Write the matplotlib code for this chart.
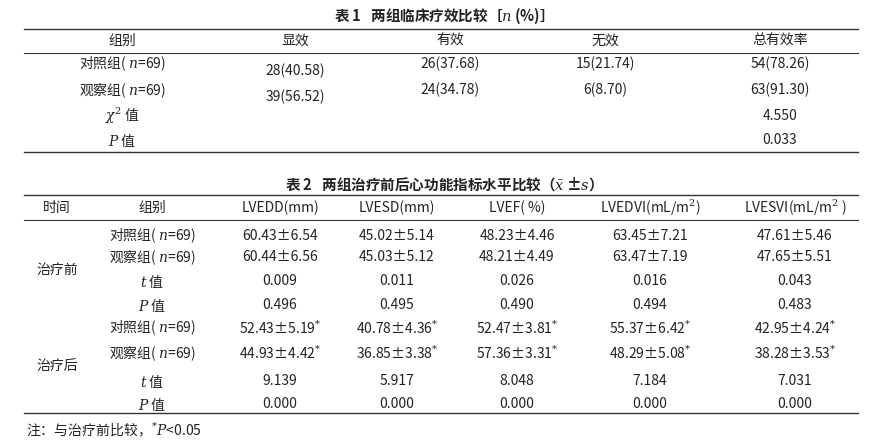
import matplotlib
matplotlib.use("Agg")
import matplotlib.pyplot as plt

plt.rcParams["font.family"] = "Noto Sans CJK SC"
plt.rcParams["mathtext.fontset"] = "dejavuserif"

# ---- table 1 data ----
t1_title = "表 1   两组临床疗效比较［$n$ (%)］"
t1_head = ["组别", "显效", "有效", "无效", "总有效率"]
t1_rows = ["对照组( $n$=69)", "观察组( $n$=69)", "$\\chi^2$ 值", "$P$ 值"]
t1_xian = ["28(40.58)", "39(56.52)"]
t1_you = ["26(37.68)", "24(34.78)"]
t1_wu = ["15(21.74)", "6(8.70)"]
t1_total = ["54(78.26)", "63(91.30)", "4.550", "0.033"]

# ---- table 2 data ----
t2_title = "表 2   两组治疗前后心功能指标水平比较（$\\bar{x}$ ±$s$）"
t2_head = ["时间", "组别", "LVEDD(mm)", "LVESD(mm)", "LVEF( %)",
           "LVEDVI(mL/m$^2$)", "LVESVI(mL/m$^2$ )"]
t2_times = ["治疗前", "治疗后"]
t2_groups = ["对照组( $n$=69)", "观察组( $n$=69)", "$t$ 值", "$P$ 值"] * 2
S = "$^{*}$"
t2_vals = [
    ["60.43±6.54", "45.02±5.14", "48.23±4.46", "63.45±7.21", "47.61±5.46"],
    ["60.44±6.56", "45.03±5.12", "48.21±4.49", "63.47±7.19", "47.65±5.51"],
    ["0.009", "0.011", "0.026", "0.016", "0.043"],
    ["0.496", "0.495", "0.490", "0.494", "0.483"],
    ["52.43±5.19" + S, "40.78±4.36" + S, "52.47±3.81" + S, "55.37±6.42" + S, "42.95±4.24" + S],
    ["44.93±4.42" + S, "36.85±3.38" + S, "57.36±3.31" + S, "48.29±5.08" + S, "38.28±3.53" + S],
    ["9.139", "5.917", "8.048", "7.184", "7.031"],
    ["0.000", "0.000", "0.000", "0.000", "0.000"],
]
note = "注：与治疗前比较，$^{*}$$P$<0.05"

fig = plt.figure(figsize=(8.92, 4.41), dpi=100)
ax = fig.add_axes([0, 0, 1, 1])
ax.set_xlim(0, 892)
ax.set_ylim(441, 0)
ax.axis("off")
fs = 10
c = "#222222"


def t(x, y, s, ha="center", size=fs, weight="normal"):
    ax.text(x, y, s, ha=ha, va="center", fontsize=size, color=c, fontweight=weight)


def rule(y, x0=24, x1=858, lw=1.0):
    ax.plot([x0, x1], [y, y], color="#333333", lw=lw)


# table 1
t(440, 16, t1_title, size=10.5, weight="bold")
rule(29)
rule(53, lw=0.8)
rule(152)
t1_x = [122, 295, 450, 605, 780]
for x, h in zip(t1_x, t1_head):
    t(x, 41, h)
row_y1 = [64, 90, 116, 140]
for y, r in zip(row_y1, t1_rows):
    t(t1_x[0], y, r)
for i, v in enumerate(t1_xian):
    t(t1_x[1], [71, 97][i], v)
for i, v in enumerate(t1_you):
    t(t1_x[2], row_y1[i], v)
for i, v in enumerate(t1_wu):
    t(t1_x[3], row_y1[i], v)
for i, v in enumerate(t1_total):
    t(t1_x[4], row_y1[i], v)

# table 2
t(440, 184, t2_title, size=10.5, weight="bold")
rule(195)
rule(220, lw=0.8)
rule(413)
t2_x = [57, 152, 280, 397, 517, 650, 795]
for x, h in zip(t2_x, t2_head):
    t(x, 208, h)
t(t2_x[0], 270, t2_times[0])
t(t2_x[0], 366, t2_times[1])
row_y2 = [236, 257, 281, 305, 328, 353, 381, 404]
for y, g in zip(row_y2, t2_groups):
    t(t2_x[1], y, g)
for y, row in zip(row_y2, t2_vals):
    for x, v in zip(t2_x[2:], row):
        t(x, y, v)
t(26, 430, note, ha="left")

fig.savefig("out.png", dpi=100, facecolor="white")
